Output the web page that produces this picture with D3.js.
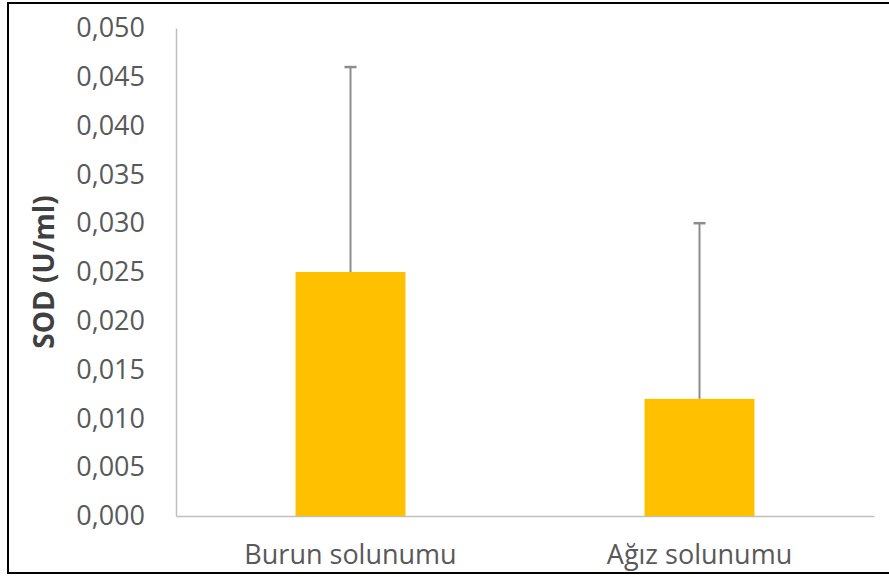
<!DOCTYPE html>
<html>
<head>
<meta charset="utf-8">
<script src="https://cdn.jsdelivr.net/npm/d3@7"></script>
<style>
  body { margin: 0; background: #fff; }
  text { font-family: "Open Sans", "Noto Sans", sans-serif; }
</style>
</head>
<body>
<svg id="chart"></svg>
<script>
// Data
const categories = ['Burun solunumu', 'Ağız solunumu'];
const means = [0.025, 0.012];
const errors = [0.021, 0.018];
const yTicks = [0, 0.005, 0.010, 0.015, 0.020, 0.025, 0.030, 0.035, 0.040, 0.045, 0.050];

const width = 889, height = 577;
const margin = { top: 28, right: 15, bottom: 61, left: 176 };

const svg = d3.select('#chart')
    .attr('width', width)
    .attr('height', height);

// Frame
svg.append('path')
    .attr('d', `M${width + 5},3 H8 V573 H${width + 5}`)
    .attr('fill', 'none')
    .attr('stroke', '#000')
    .attr('stroke-width', 2);

const x = d3.scaleBand()
    .domain(categories)
    .range([margin.left, width - margin.right])
    .paddingInner(0.685)
    .paddingOuter(0.3425);

const y = d3.scaleLinear()
    .domain([0, 0.05])
    .range([height - margin.bottom, margin.top]);

const fmt = d => d3.format('.3f')(d).replace('.', ',');

// Y axis
const yAxis = svg.append('g')
    .attr('transform', `translate(${margin.left},0)`)
    .call(d3.axisLeft(y).tickValues(yTicks).tickFormat(fmt).tickSize(0).tickPadding(31));
yAxis.select('.domain').attr('stroke', '#bfbfbf').attr('stroke-width', 1.5);
yAxis.selectAll('text')
    .attr('fill', '#595959')
    .attr('font-size', 27)
    .style('font-family', '"Open Sans", sans-serif');

// X axis
const xAxis = svg.append('g')
    .attr('transform', `translate(0,${height - margin.bottom})`)
    .call(d3.axisBottom(x).tickSize(0).tickPadding(29));
xAxis.select('.domain').attr('stroke', '#bfbfbf').attr('stroke-width', 1.5);
xAxis.selectAll('text')
    .attr('fill', '#595959')
    .attr('font-size', 27)
    .style('font-family', '"Open Sans", sans-serif');

// Bars
svg.selectAll('.bar')
    .data(categories)
  .join('rect')
    .attr('class', 'bar')
    .attr('x', d => x(d))
    .attr('width', x.bandwidth())
    .attr('y', (d, i) => y(means[i]))
    .attr('height', (d, i) => y(0) - y(means[i]))
    .attr('fill', '#ffc000');

// Error bars
const err = svg.selectAll('.err')
    .data(categories)
  .join('g')
    .attr('class', 'err');

err.append('line')
    .attr('x1', d => x(d) + x.bandwidth() / 2)
    .attr('x2', d => x(d) + x.bandwidth() / 2)
    .attr('y1', (d, i) => y(means[i]))
    .attr('y2', (d, i) => y(means[i] + errors[i]))
    .attr('stroke', '#8c8c8c')
    .attr('stroke-width', 2);

err.append('line')
    .attr('x1', d => x(d) + x.bandwidth() / 2 - 6)
    .attr('x2', d => x(d) + x.bandwidth() / 2 + 6)
    .attr('y1', (d, i) => y(means[i] + errors[i]))
    .attr('y2', (d, i) => y(means[i] + errors[i]))
    .attr('stroke', '#8c8c8c')
    .attr('stroke-width', 2.5);

// Y axis title
svg.append('text')
    .attr('transform', `translate(54,${(margin.top + height - margin.bottom) / 2}) rotate(-90)`)
    .attr('text-anchor', 'middle')
    .attr('font-size', 28)
    .attr('font-weight', 'bold')
    .attr('fill', '#404040')
    .text('SOD (U/ml)');
</script>
</body>
</html>
